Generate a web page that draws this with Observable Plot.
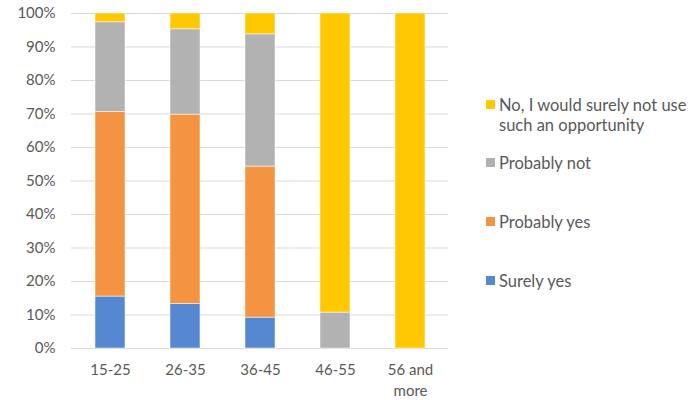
<!DOCTYPE html>
<html><head><meta charset="utf-8">
<script src="https://cdn.jsdelivr.net/npm/d3@7"></script>
<script src="https://cdn.jsdelivr.net/npm/@observablehq/plot@0.6"></script>
<style>
body{margin:0;background:#fff;font-family:Lato,"Open Sans",sans-serif;}
#wrap{position:relative;width:689px;height:400px;}
.leg{position:absolute;left:486px;color:#595959;font-size:16.5px;line-height:20px;}
.leg .sw{position:absolute;left:0;top:5px;width:9px;height:9px;}
.leg .tx{margin-left:13px;white-space:nowrap;}
</style></head>
<body><div id="wrap"></div>
<script>
const categories = ["15-25","26-35","36-45","46-55","56 and\nmore"];
const seriesNames = ["Surely yes","Probably yes","Probably not","No, I would surely not use such an opportunity"];
const surelyYes   = [15.5, 13.3, 9.2, 0, 0];
const probablyYes = [55.1, 56.5, 45.1, 0, 0];
const probablyNot = [26.8, 25.5, 39.5, 10.7, 0];
const surelyNot   = [2.6, 4.7, 6.2, 89.3, 100];
const colors = ["#5588D0","#F59440","#B2B2B2","#FFC800"];
const yTicks = [0,10,20,30,40,50,60,70,80,90,100];

const seriesValues = [surelyYes, probablyYes, probablyNot, surelyNot];
const rows = [];
seriesNames.forEach((s,i)=>categories.forEach((c,j)=>rows.push({cat:c, series:s, value:seriesValues[i][j]})));

const chart = Plot.plot({
  width:689, height:400,
  marginLeft:71, marginRight:241, marginTop:13, marginBottom:52,
  style:{fontFamily:"Lato, 'Open Sans', sans-serif", fontSize:"15px", color:"#595959"},
  x:{domain:categories, paddingInner:0.6, paddingOuter:0.3, label:null},
  y:{domain:[0,100], label:null},
  color:{domain:seriesNames, range:colors},
  marks:[
    Plot.gridY(yTicks,{stroke:"#d9d9d9", strokeOpacity:1, strokeWidth:1}),
    Plot.barY(rows,{x:"cat", y:"value", z:"series", fill:"series", stroke:"white", strokeOpacity:0.5, strokeWidth:1, order:seriesNames}),
    Plot.axisY(yTicks,{tickFormat:d=>d+"%", tickSize:0, tickPadding:16, fontSize:15, fill:"#595959", label:null}),
    Plot.axisX({tickSize:0, tickPadding:12, fontSize:15, lineHeight:1.4, fill:"#595959", label:null})
  ]
});
chart.style.position="absolute"; chart.style.left="0"; chart.style.top="0";
const wrap = document.getElementById("wrap");
wrap.appendChild(chart);

const legendItems = [
  {color:colors[3], html:"No, I would surely not use<br>such an opportunity", top:95},
  {color:colors[2], html:seriesNames[2], top:153},
  {color:colors[1], html:seriesNames[1], top:212},
  {color:colors[0], html:seriesNames[0], top:271}
];
legendItems.forEach(it=>{
  const d=document.createElement("div");
  d.className="leg"; d.style.top=it.top+"px";
  d.innerHTML=`<span class="sw" style="background:${it.color}"></span><div class="tx">${it.html}</div>`;
  wrap.appendChild(d);
});
</script></body></html>
